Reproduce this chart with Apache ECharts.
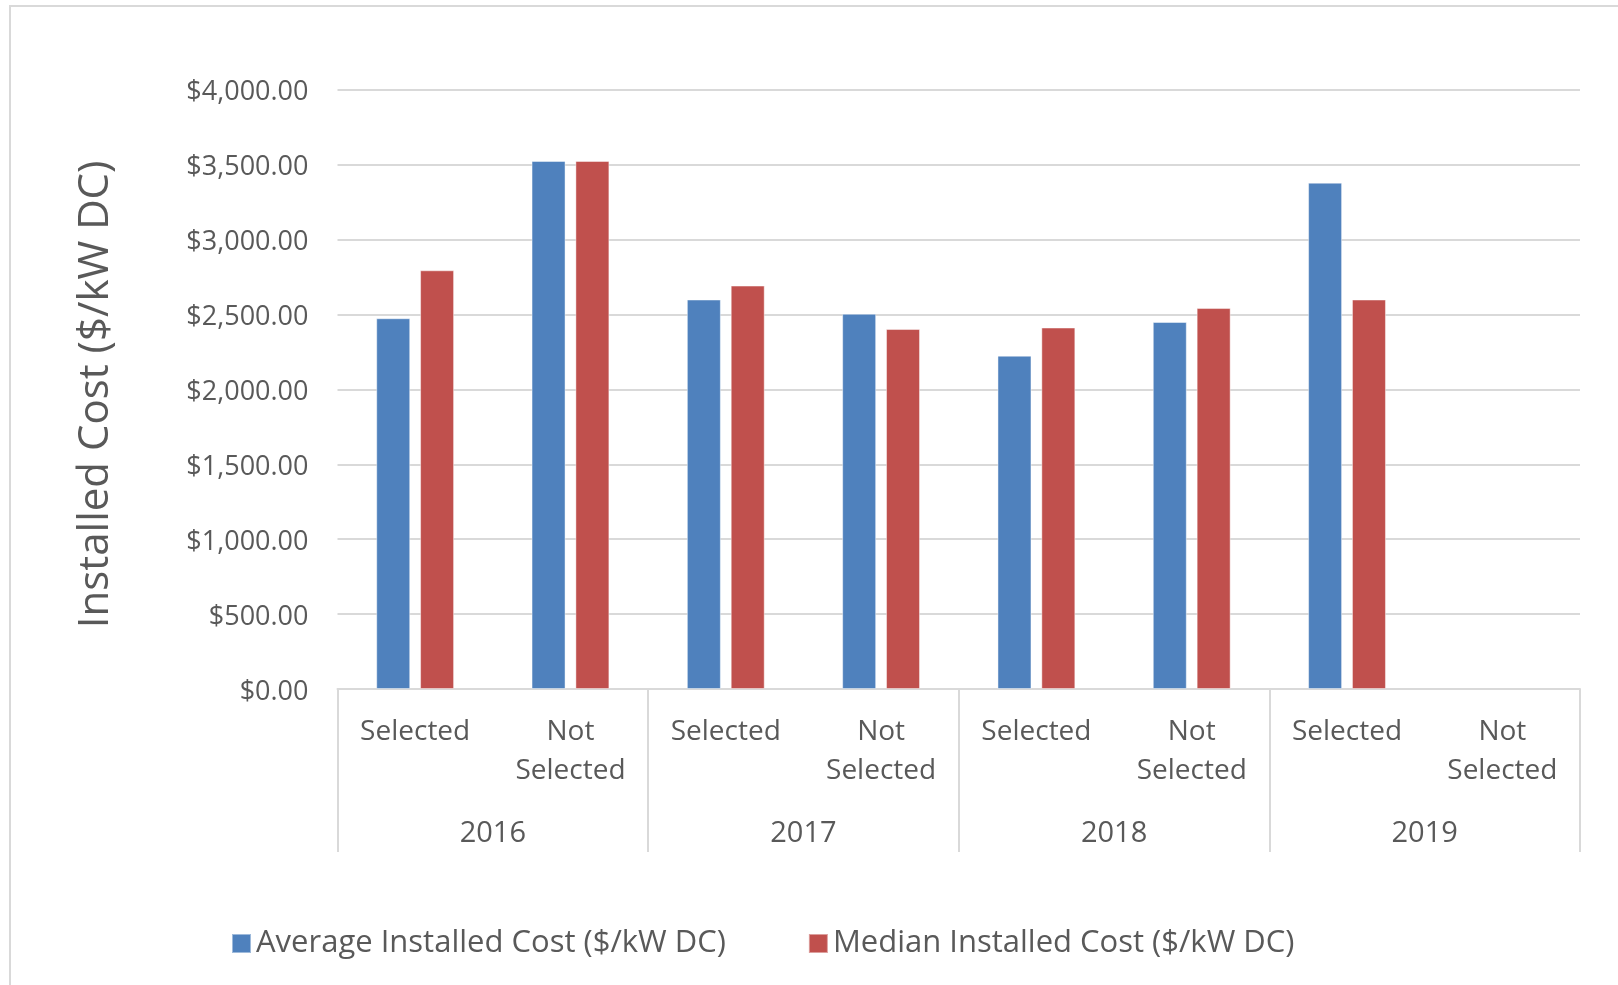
<!DOCTYPE html>
<html>
<head>
<meta charset="utf-8">
<script src="https://cdn.jsdelivr.net/npm/echarts@6/dist/echarts.min.js"></script>
<style>
html,body{margin:0;padding:0;background:#fff;}
#chart{width:1618px;height:985px;}
</style>
</head>
<body>
<div id="chart"></div>
<script>
const subCategories = ['Selected', 'Not\nSelected', 'Selected', 'Not\nSelected', 'Selected', 'Not\nSelected', 'Selected', 'Not\nSelected'];
const years = ['2016', '2017', '2018', '2019'];
const averageCost = [2475, 3525, 2600, 2505, 2225, 2450, 3380, null];
const medianCost = [2795, 3525, 2693, 2403, 2413, 2543, 2600, null];
const seriesNames = ['Average Installed Cost ($/kW DC)', 'Median Installed Cost ($/kW DC)'];

const FONT = '"Open Sans", sans-serif';
const TXT = '#595959';
const LINE = '#d9d9d9';

const chart = echarts.init(document.getElementById('chart'));
chart.setOption({
  backgroundColor: '#fff',
  animation: false,
  textStyle: { fontFamily: FONT },
  graphic: [{
    type: 'rect',
    shape: { x: 10, y: 6, width: 1700, height: 1100 },
    style: { fill: 'none', stroke: LINE, lineWidth: 2 },
    silent: true
  }],
  grid: { left: 337.5, right: 38, top: 89.8, bottom: 296, containLabel: false },
  legend: {
    left: 226, top: 923,
    icon: 'rect', itemWidth: 19, itemHeight: 19, itemGap: 82,
    textStyle: { fontFamily: FONT, fontSize: 31, color: TXT },
    data: seriesNames
  },
  xAxis: [{
    type: 'category',
    data: subCategories,
    position: 'bottom',
    axisLine: { show: true, lineStyle: { color: LINE, width: 2 } },
    axisTick: { show: false },
    axisLabel: { interval: 0, fontFamily: FONT, fontSize: 28, color: TXT, lineHeight: 39, margin: 24 }
  }, {
    type: 'category',
    data: years,
    position: 'bottom',
    axisLine: { show: false },
    axisTick: { show: true, length: 163, lineStyle: { color: LINE, width: 2 } },
    axisLabel: { interval: 0, fontFamily: FONT, fontSize: 29, color: TXT, margin: 130 }
  }],
  yAxis: {
    type: 'value',
    min: 0, max: 4000, interval: 500,
    name: 'Installed Cost ($/kW DC)',
    nameLocation: 'middle',
    nameGap: 220,
    nameTextStyle: { fontFamily: FONT, fontSize: 42, color: TXT, padding: [0, 10, 0, 0] },
    axisLine: { show: false },
    axisTick: { show: false },
    splitLine: { lineStyle: { color: LINE, width: 2 } },
    axisLabel: {
      margin: 29,
      fontFamily: FONT, fontSize: 27, color: TXT,
      formatter: v => '{t|$' + v.toLocaleString('en-US', { minimumFractionDigits: 2, maximumFractionDigits: 2 }) + '}',
      rich: { t: { fontFamily: FONT, fontSize: 27, color: TXT, padding: [6, 0, 0, 0] } }
    }
  },
  series: [{
    name: seriesNames[0],
    type: 'bar',
    data: averageCost,
    barWidth: 34,
    barGap: '29%',
    itemStyle: { color: '#4f81bd', borderColor: 'rgba(255,255,255,0.45)', borderWidth: 1 }
  }, {
    name: seriesNames[1],
    type: 'bar',
    data: medianCost,
    barWidth: 34,
    barGap: '29%',
    itemStyle: { color: '#c0504d', borderColor: 'rgba(255,255,255,0.45)', borderWidth: 1 }
  }]
});
</script>
</body>
</html>
